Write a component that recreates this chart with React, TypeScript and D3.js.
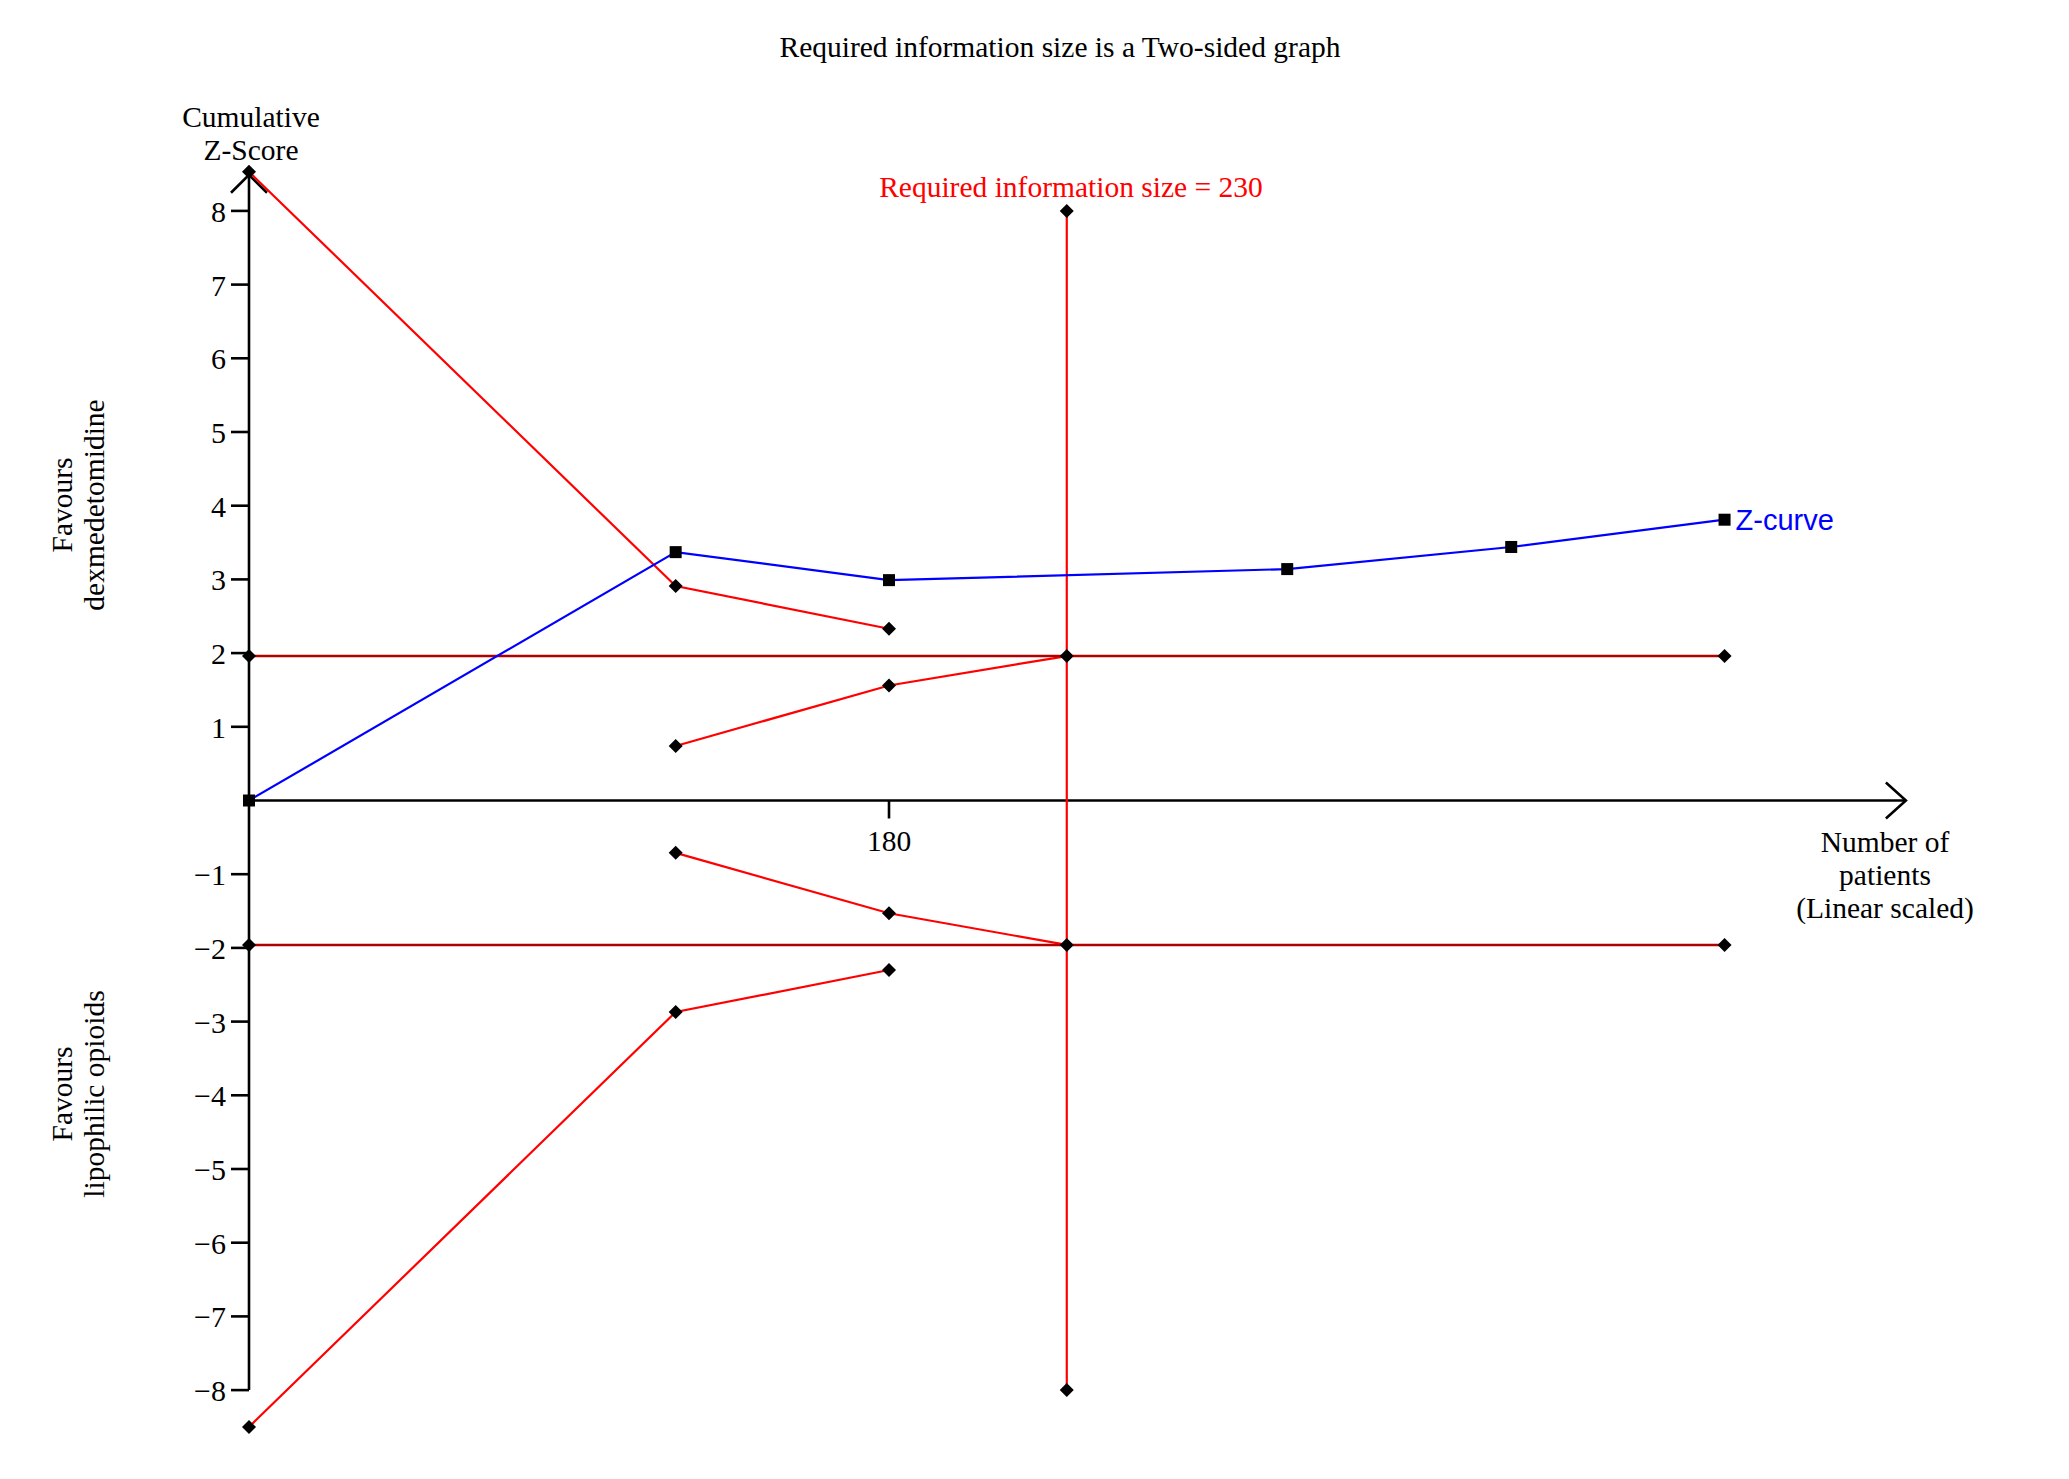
import React, { useEffect, useRef } from "react";
import * as d3 from "d3";

// cumulative Z-curve
const zCurveN = [0, 120, 180, 292, 355, 415];
const zCurveZ = [0, 3.37, 2.99, 3.14, 3.44, 3.81];

// trial sequential monitoring boundaries
const upperBoundN = [0, 120, 180];
const upperBoundZ = [8.53, 2.91, 2.33];
const lowerBoundN = [0, 120, 180];
const lowerBoundZ = [-8.5, -2.87, -2.3];

// futility (inner wedge) boundaries
const upperFutilityN = [120, 180, 230];
const upperFutilityZ = [0.74, 1.56, 1.96];
const lowerFutilityN = [120, 180, 230];
const lowerFutilityZ = [-0.71, -1.53, -1.96];

// conventional boundaries (Z = +/-1.96)
const conventionalN = [0, 415];
const conventionalZ = [1.96, -1.96];

const requiredInfoSize = 230;
const risZRange = [8, -8];

const yTicks = [-8, -7, -6, -5, -4, -3, -2, -1, 1, 2, 3, 4, 5, 6, 7, 8];
const xTicks = [180];

const W = 2069;
const H = 1479;

const App: React.FC = () => {
  const svgRef = useRef<SVGSVGElement | null>(null);

  useEffect(() => {
    if (!svgRef.current) return;
    const svg = d3.select(svgRef.current);
    svg.selectAll("*").remove();

    const serif = "'Liberation Serif', 'Times New Roman', serif";
    const sans = "'Liberation Sans', Arial, sans-serif";
    const fs = 29.5;

    const x = d3.scaleLinear().domain([0, 180]).range([249, 889]);
    const y = d3.scaleLinear().domain([0, 8]).range([800.5, 210.9]);

    const x0 = x(0);
    const y0 = y(0);

    // title
    svg
      .append("text")
      .attr("x", 1060)
      .attr("y", 57)
      .attr("text-anchor", "middle")
      .attr("font-family", serif)
      .attr("font-size", fs)
      .text("Required information size is a Two-sided graph");

    // axes
    const axes = svg.append("g").attr("stroke", "#000").attr("stroke-width", 2.6).attr("fill", "none");
    const yTop = y(8.49);
    const xEnd = x(466);
    axes.append("line").attr("x1", x0).attr("x2", x0).attr("y1", yTop).attr("y2", y(-8));
    axes.append("path").attr("d", `M${x0 - 18},${yTop + 18}L${x0},${yTop}L${x0 + 18},${yTop + 18}`);
    axes.append("line").attr("x1", x0).attr("x2", xEnd).attr("y1", y0).attr("y2", y0);
    axes.append("path").attr("d", `M${xEnd - 20},${y0 - 18}L${xEnd},${y0}L${xEnd - 20},${y0 + 18}`);

    axes
      .selectAll("line.ytick")
      .data(yTicks)
      .enter()
      .append("line")
      .attr("class", "ytick")
      .attr("x1", x0 - 18)
      .attr("x2", x0)
      .attr("y1", (d) => y(d))
      .attr("y2", (d) => y(d));

    axes
      .selectAll("line.xtick")
      .data(xTicks)
      .enter()
      .append("line")
      .attr("class", "xtick")
      .attr("x1", (d) => x(d))
      .attr("x2", (d) => x(d))
      .attr("y1", y0)
      .attr("y2", y0 + 18);

    const fmt = d3.format("d");
    svg
      .append("g")
      .attr("font-family", serif)
      .attr("font-size", 30)
      .attr("text-anchor", "end")
      .selectAll("text")
      .data(yTicks)
      .enter()
      .append("text")
      .attr("x", x0 - 23)
      .attr("y", (d) => y(d) + 11)
      .text((d) => fmt(d));

    svg
      .append("g")
      .attr("font-family", serif)
      .attr("font-size", fs)
      .attr("text-anchor", "middle")
      .selectAll("text")
      .data(xTicks)
      .enter()
      .append("text")
      .attr("x", (d) => x(d))
      .attr("y", 851)
      .text((d) => String(d));

    // axis titles
    const yTitle = svg.append("text").attr("font-family", serif).attr("font-size", fs).attr("text-anchor", "middle");
    yTitle.append("tspan").attr("x", 251).attr("y", 127).text("Cumulative");
    yTitle.append("tspan").attr("x", 251).attr("y", 160).text("Z-Score");

    const xTitle = svg.append("text").attr("font-family", serif).attr("font-size", fs).attr("text-anchor", "middle");
    ["Number of", "patients", "(Linear scaled)"].forEach((t, i) => {
      xTitle.append("tspan").attr("x", 1885).attr("y", 852 + i * 33).text(t);
    });

    const sideLabel = (cy: number, l1: string, l2: string) => {
      const t = svg
        .append("text")
        .attr("font-family", serif)
        .attr("font-size", fs)
        .attr("text-anchor", "middle")
        .attr("transform", `translate(0,${cy}) rotate(-90)`);
      t.append("tspan").attr("x", 0).attr("y", 72).text(l1);
      t.append("tspan").attr("x", 0).attr("y", 104).text(l2);
    };
    sideLabel(505, "Favours", "dexmedetomidine");
    sideLabel(1094, "Favours", "lipophilic opioids");

    const line = d3
      .line<[number, number]>()
      .x((d) => x(d[0]))
      .y((d) => y(d[1]));

    const zip = (ns: number[], zs: number[]) => ns.map((n, i) => [n, zs[i]] as [number, number]);

    const upperB = zip(upperBoundN, upperBoundZ);
    const lowerB = zip(lowerBoundN, lowerBoundZ);
    const upperF = zip(upperFutilityN, upperFutilityZ);
    const lowerF = zip(lowerFutilityN, lowerFutilityZ);
    const risLine: [number, number][] = risZRange.map((z) => [requiredInfoSize, z]);
    const convLines = conventionalZ.map((z) => conventionalN.map((n) => [n, z] as [number, number]));
    const zCurve = zip(zCurveN, zCurveZ);

    // red boundaries
    [upperB, lowerB, upperF, lowerF, risLine].forEach((pts) => {
      svg.append("path").attr("d", line(pts)).attr("fill", "none").attr("stroke", "#ff0000").attr("stroke-width", 2.2);
    });

    // conventional boundaries
    convLines.forEach((pts) => {
      svg.append("path").attr("d", line(pts)).attr("fill", "none").attr("stroke", "#b00000").attr("stroke-width", 2.6);
    });

    // Z-curve
    svg.append("path").attr("d", line(zCurve)).attr("fill", "none").attr("stroke", "#0000ff").attr("stroke-width", 2.2);

    // diamond markers
    const diamonds = [...upperB, ...lowerB, ...upperF, ...lowerF, ...risLine, ...convLines.flat()];
    svg
      .append("g")
      .selectAll("path")
      .data(diamonds)
      .enter()
      .append("path")
      .attr("d", (d) => {
        const cx = x(d[0]);
        const cy = y(d[1]);
        return `M${cx},${cy - 7}L${cx + 7},${cy}L${cx},${cy + 7}L${cx - 7},${cy}Z`;
      })
      .attr("fill", "#000");

    // square markers
    svg
      .append("g")
      .selectAll("rect")
      .data(zCurve)
      .enter()
      .append("rect")
      .attr("x", (d) => x(d[0]) - 6)
      .attr("y", (d) => y(d[1]) - 6)
      .attr("width", 12)
      .attr("height", 12)
      .attr("fill", "#000");

    const last = zCurve[zCurve.length - 1];
    svg
      .append("text")
      .attr("x", x(last[0]) + 11)
      .attr("y", y(last[1]) + 10)
      .attr("font-family", sans)
      .attr("font-size", 29)
      .attr("fill", "#0000ff")
      .text("Z-curve");

    svg
      .append("text")
      .attr("x", 1071)
      .attr("y", 197)
      .attr("text-anchor", "middle")
      .attr("font-family", serif)
      .attr("font-size", fs)
      .attr("fill", "#ff0000")
      .text(`Required information size = ${requiredInfoSize}`);
  }, []);

  return (
    <svg
      ref={svgRef}
      width={W}
      height={H}
      style={{ position: "absolute", left: 0, top: 0, background: "#fff" }}
    ></svg>
  );
};

export default App;
